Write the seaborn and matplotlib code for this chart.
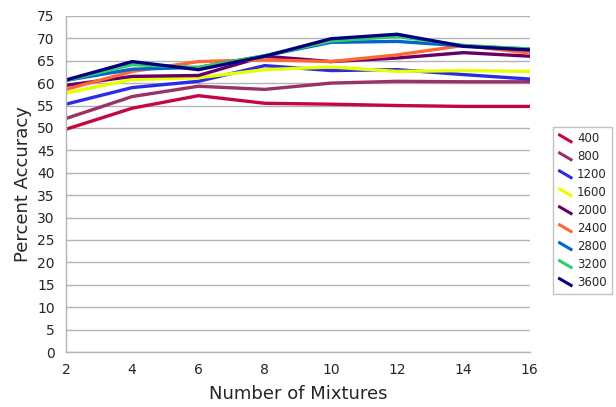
import numpy as np
import pandas as pd
import seaborn as sns
import matplotlib.pyplot as plt
from matplotlib.legend_handler import HandlerLine2D

# Datos
mixtures = [2, 4, 6, 8, 10, 12, 14, 16]
series_names = ["400", "800", "1200", "1600", "2000", "2400", "2800", "3200", "3600"]

acc_400 = [49.7, 54.4, 57.2, 55.5, 55.3, 55.0, 54.8, 54.8]
acc_800 = [52.1, 57.0, 59.3, 58.6, 60.0, 60.4, 60.3, 60.3]
acc_1200 = [55.3, 59.0, 60.4, 63.9, 62.8, 63.0, 61.9, 60.9]
acc_1600 = [57.8, 60.8, 61.2, 63.0, 63.6, 62.6, 62.8, 62.6]
acc_2000 = [59.5, 61.5, 61.7, 66.0, 64.8, 65.6, 66.8, 66.0]
acc_2400 = [58.6, 62.6, 64.8, 65.2, 64.8, 66.3, 68.4, 66.7]
acc_2800 = [60.6, 63.1, 63.5, 66.1, 69.1, 69.3, 68.3, 67.6]
acc_3200 = [60.6, 64.1, 63.5, 66.1, 69.4, 70.4, 68.4, 67.6]
acc_3600 = [60.7, 64.8, 63.0, 66.0, 69.9, 70.9, 68.2, 67.4]

colors = ["#c4073f", "#993366", "#2b2be6", "#e8ff00", "#660066",
          "#ff6633", "#0066cc", "#33cc66", "#000080"]

all_acc = [acc_400, acc_800, acc_1200, acc_1600, acc_2000,
           acc_2400, acc_2800, acc_3200, acc_3600]

rows = []
for name, vals in zip(series_names, all_acc):
    for m, v in zip(mixtures, vals):
        rows.append({"mixtures": m, "accuracy": v, "series": name})
df = pd.DataFrame(rows)


# Handles diagonales tipo LibreOffice
class DiagonalHandler(HandlerLine2D):
    def create_artists(self, legend, orig_handle, xdescent, ydescent,
                       width, height, fontsize, trans):
        line = plt.Line2D([0, width], [height, 0],
                          color=orig_handle.get_color(),
                          linewidth=orig_handle.get_linewidth(),
                          solid_capstyle="butt")
        line.set_transform(trans)
        return [line]


sns.set_style("white")
plt.rcParams["font.family"] = ["DejaVu Sans"]

fig = plt.figure(figsize=(6.16, 4.07), dpi=100)
ax = fig.add_axes([0.107, 0.135, 0.753, 0.826])

sns.lineplot(data=df, x="mixtures", y="accuracy", hue="series",
             hue_order=series_names, palette=colors, linewidth=2.4,
             ax=ax, legend=False)

ax.set_xlim(2, 16)
ax.set_ylim(0, 75)
ax.set_xticks(mixtures)
ax.set_yticks(np.arange(0, 80, 5))
ax.yaxis.grid(True, color="#b3b3b3", linewidth=1)
ax.set_axisbelow(True)

for s in ["top", "right"]:
    ax.spines[s].set_visible(False)
for s in ["left", "bottom"]:
    ax.spines[s].set_color("#b3b3b3")
    ax.spines[s].set_linewidth(1)

ax.tick_params(axis="both", direction="out", length=5, width=1,
               color="#b3b3b3", labelsize=10, pad=3)
ax.set_xlabel("Number of Mixtures", fontsize=13, labelpad=6)
ax.set_ylabel("Percent Accuracy", fontsize=13, labelpad=4)

handles = [plt.Line2D([], [], color=c, linewidth=2.2) for c in colors]
leg = fig.legend(handles, series_names, loc="center left",
                 bbox_to_anchor=(0.888, 0.482), fontsize=8.5,
                 frameon=True, fancybox=False, handlelength=1.2,
                 handletextpad=0.4, labelspacing=0.42, borderpad=0.45,
                 handler_map={plt.Line2D: DiagonalHandler()})
leg.get_frame().set_edgecolor("#b3b3b3")
leg.get_frame().set_linewidth(1)

fig.savefig("out.png", dpi=100)
